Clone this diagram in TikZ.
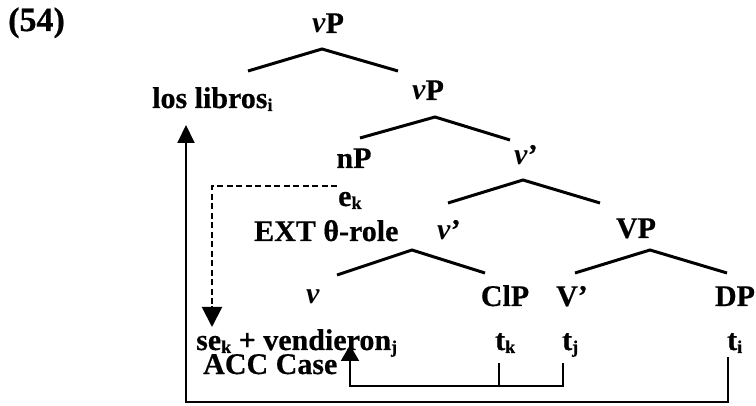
\documentclass[tikz,border=0pt]{standalone}
\usepackage{fontspec}
\setmainfont{Liberation Serif}[BoldFeatures={FakeBold=0.5}]
\usetikzlibrary{arrows.meta}
% small bold index, set a little below the baseline
\newcommand\idx[1]{\raisebox{-0.1em}{\fontsize{18}{18}\selectfont\bfseries #1}}
\newcommand\vlt{\textit{ν}}
\begin{document}
\begin{tikzpicture}[x=1pt,y=-1pt,
  every node/.style={font=\fontsize{30}{32}\selectfont\bfseries, inner sep=0pt},
  lbl/.style={anchor=base},
  lblw/.style={anchor=base west},
  branch/.style={line width=3pt},
  link/.style={line width=2pt},
  dashlink/.style={line width=2pt, dash pattern=on 6pt off 3.5pt},
  bigtip/.style={-{Triangle[width=17pt,length=18pt]}},
  dashtip/.style={-{Triangle[width=20pt,length=20pt]}},
  casetip/.style={-{Triangle[width=18pt,length=16pt]}}
]
\useasboundingbox (0,0) rectangle (756,406);

% example number
\node[lblw, font=\fontsize{34}{36}\selectfont\bfseries] (ex) at (8,31) {(54)};

% labels of the tree
\node[lbl]  (vP1)   at (328,33)  {\vlt P};
\node[lblw] (libros) at (152,108) {los libros\idx{i}};
\node[lbl]  (vP2)   at (428,100) {\vlt P};
\node[lbl]  (nP)    at (354,168) {nP};
\node[lbl]  (vb1)   at (526,165) {\vlt'};
\node[lblw] (ek)    at (338,206) {e\idx{k}};
\node[lblw] (ext)   at (254,241) {EXT θ-role};
\node[lbl]  (vb2)   at (449,240) {\vlt'};
\node[lbl]  (VP)    at (636,238) {VP};
\node[lbl]  (v3)    at (313,304) {\vlt};
\node[lbl]  (ClP)   at (505,306) {ClP};
\node[lbl]  (Vb)    at (572,306) {V'};
\node[lbl]  (DP)    at (735,306) {DP};
\node[lblw] (sev)   at (196,350) {se\idx{k} + vendieron\idx{j}};
\node[lblw] (tk)    at (495,350) {t\idx{k}};
\node[lblw] (tj)    at (562,350) {t\idx{j}};
\node[lblw] (ti)    at (727,350) {t\idx{i}};
\node[lblw] (acc)   at (203,374) {ACC Case};

% branch points
\coordinate (a1l) at (248,71);  \coordinate (a1) at (322,49);  \coordinate (a1r) at (398,71);
\coordinate (a2l) at (360,138); \coordinate (a2) at (435,117); \coordinate (a2r) at (510,140);
\coordinate (a3l) at (448,203); \coordinate (a3) at (523,180); \coordinate (a3r) at (600,203);
\coordinate (a4l) at (337,275); \coordinate (a4) at (412,250); \coordinate (a4r) at (485,273);
\coordinate (a5l) at (575,273); \coordinate (a5) at (650,250); \coordinate (a5r) at (727,273);

\draw[branch] (a1l) -- (a1) -- (a1r);
\draw[branch] (a2l) -- (a2) -- (a2r);
\draw[branch] (a3l) -- (a3) -- (a3r);
\draw[branch] (a4l) -- (a4) -- (a4r);
\draw[branch] (a5l) -- (a5) -- (a5r);

% movement of los libros from t_i
\coordinate (tiFoot) at (728,357);
\coordinate (outerR) at (728,402);
\coordinate (outerL) at (186,402);
\coordinate (librosTip) at (186,125);
\draw[link, bigtip] (tiFoot) -- (outerR) -- (outerL) -- (librosTip);

% case link from t_j and t_k to ACC Case
\coordinate (tjFoot) at (563,363);
\coordinate (tjCorner) at (563,386);
\coordinate (accCorner) at (350,386);
\coordinate (accTip) at (350,345);
\coordinate (tkFoot) at (499,363);
\coordinate (tkJoin) at (499,386);
\draw[link, casetip] (tjFoot) -- (tjCorner) -- (accCorner) -- (accTip);
\draw[link] (tkFoot) -- (tkJoin);

% dashed link from e_k to se_k
\coordinate (ekStart) at (337,186);
\coordinate (ekCorner) at (212,186);
\coordinate (seTip) at (212,327);
\draw[dashlink] (ekStart) -- (ekCorner) -- ([yshift=20pt]seTip);
\draw[link, dashtip] ([yshift=21pt]seTip) -- (seTip);
\end{tikzpicture}
\end{document}
